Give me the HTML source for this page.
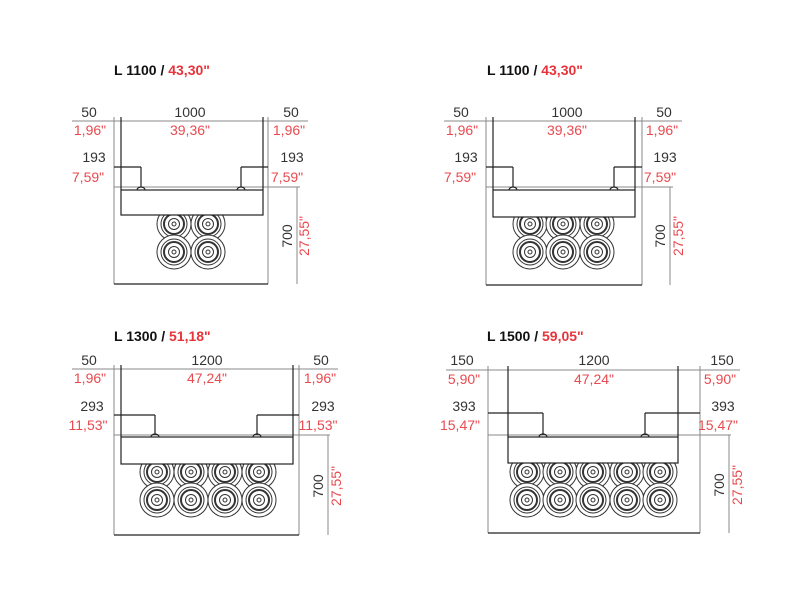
<!DOCTYPE html>
<html><head><meta charset="utf-8"><style>
html,body{margin:0;padding:0;background:#fff}
svg{display:block}
text{font-family:"Liberation Sans",sans-serif;font-size:14px;fill:#333}
.r{fill:#e84a4f}
.t{font-weight:bold;font-size:14px;fill:#111}
.t .r{fill:#e8333a}
.g{stroke:#888;stroke-width:1;fill:none}
.k{stroke:#222;stroke-width:1.2;fill:none}
</style></head><body>
<svg width="800" height="600" viewBox="0 0 800 600" xmlns="http://www.w3.org/2000/svg">
<defs>
<g id="c"><circle r="17" fill="#fff" stroke="#333" stroke-width="1"/><circle r="13" fill="none" stroke="#333" stroke-width="1"/><circle r="10" fill="none" stroke="#333" stroke-width="2"/><circle r="5.5" fill="none" stroke="#333" stroke-width="1"/><circle r="2" fill="none" stroke="#333" stroke-width="1"/></g>
</defs>

<!-- Panel 1 -->
<text x="114" y="75" class="t">L 1100 / <tspan class="r">43,30"</tspan></text>
<line x1="72" y1="121" x2="308" y2="121" class="g"/>
<line x1="114" y1="117" x2="114" y2="284" class="g"/>
<line x1="268" y1="117" x2="268" y2="284" class="g"/>
<line x1="114" y1="187" x2="300" y2="187" class="g"/>
<line x1="121" y1="117" x2="121" y2="190" class="k"/>
<line x1="263" y1="117" x2="263" y2="190" class="k"/>
<line x1="114" y1="167" x2="141" y2="167" class="k"/><line x1="141" y1="167" x2="141" y2="187" class="k"/>
<line x1="241" y1="167" x2="268" y2="167" class="k"/><line x1="241" y1="167" x2="241" y2="187" class="k"/>
<use href="#c" x="174" y="224"/><use href="#c" x="208" y="224"/><use href="#c" x="174" y="252"/><use href="#c" x="208" y="252"/>
<rect x="121" y="190" width="142" height="25" fill="#fff" stroke="#222" stroke-width="1.2"/>
<path d="M137 190 a4 3 0 0 1 8 0 M237 190 a4 3 0 0 1 8 0" class="k"/>
<line x1="114" y1="284" x2="268" y2="284" class="k"/>
<line x1="297" y1="187" x2="297" y2="284" class="g"/>
<text x="89" y="117" text-anchor="middle">50</text><text x="90" y="135" text-anchor="middle" class="r">1,96"</text>
<text x="190" y="117" text-anchor="middle">1000</text><text x="190" y="135" text-anchor="middle" class="r">39,36"</text>
<text x="291" y="117" text-anchor="middle">50</text><text x="289" y="135" text-anchor="middle" class="r">1,96"</text>
<text x="94" y="162" text-anchor="middle">193</text><text x="88" y="182" text-anchor="middle" class="r">7,59"</text>
<text x="292" y="162" text-anchor="middle">193</text><text x="287" y="182" text-anchor="middle" class="r">7,59"</text>
<text transform="translate(292,236) rotate(-90)" text-anchor="middle">700</text>
<text transform="translate(309,236) rotate(-90)" text-anchor="middle" class="r">27,55"</text>

<!-- Panel 2 -->
<text x="487" y="75" class="t">L 1100 / <tspan class="r">43,30"</tspan></text>
<line x1="444" y1="121" x2="682" y2="121" class="g"/>
<line x1="486" y1="117" x2="486" y2="285" class="g"/>
<line x1="642" y1="117" x2="642" y2="285" class="g"/>
<line x1="486" y1="187" x2="673" y2="187" class="g"/>
<line x1="493" y1="117" x2="493" y2="190" class="k"/>
<line x1="635" y1="117" x2="635" y2="190" class="k"/>
<line x1="486" y1="167" x2="513" y2="167" class="k"/><line x1="513" y1="167" x2="513" y2="187" class="k"/>
<line x1="614" y1="167" x2="642" y2="167" class="k"/><line x1="614" y1="167" x2="614" y2="187" class="k"/>
<use href="#c" x="530" y="224"/><use href="#c" x="563" y="224"/><use href="#c" x="597" y="224"/>
<use href="#c" x="530" y="252"/><use href="#c" x="563" y="252"/><use href="#c" x="597" y="252"/>
<rect x="493" y="190" width="142" height="27" fill="#fff" stroke="#222" stroke-width="1.2"/>
<path d="M509 190 a4 3 0 0 1 8 0 M610 190 a4 3 0 0 1 8 0" class="k"/>
<line x1="486" y1="285" x2="642" y2="285" class="k"/>
<line x1="670" y1="187" x2="670" y2="285" class="g"/>
<text x="461" y="117" text-anchor="middle">50</text><text x="462" y="135" text-anchor="middle" class="r">1,96"</text>
<text x="567" y="117" text-anchor="middle">1000</text><text x="567" y="135" text-anchor="middle" class="r">39,36"</text>
<text x="664" y="117" text-anchor="middle">50</text><text x="662" y="135" text-anchor="middle" class="r">1,96"</text>
<text x="466" y="162" text-anchor="middle">193</text><text x="460" y="182" text-anchor="middle" class="r">7,59"</text>
<text x="665" y="162" text-anchor="middle">193</text><text x="660" y="182" text-anchor="middle" class="r">7,59"</text>
<text transform="translate(665,236) rotate(-90)" text-anchor="middle">700</text>
<text transform="translate(683,236) rotate(-90)" text-anchor="middle" class="r">27,55"</text>

<!-- Panel 3 -->
<text x="114" y="341" class="t">L 1300 / <tspan class="r">51,18"</tspan></text>
<line x1="72" y1="369" x2="338" y2="369" class="g"/>
<line x1="114" y1="365" x2="114" y2="535" class="g"/>
<line x1="299" y1="365" x2="299" y2="535" class="g"/>
<line x1="114" y1="435" x2="330" y2="435" class="g"/>
<line x1="121" y1="365" x2="121" y2="437" class="k"/>
<line x1="293" y1="365" x2="293" y2="437" class="k"/>
<line x1="114" y1="415" x2="155" y2="415" class="k"/><line x1="155" y1="415" x2="155" y2="435" class="k"/>
<line x1="257" y1="415" x2="299" y2="415" class="k"/><line x1="257" y1="415" x2="257" y2="435" class="k"/>
<use href="#c" x="157" y="472"/><use href="#c" x="191" y="472"/><use href="#c" x="225" y="472"/><use href="#c" x="259" y="472"/>
<use href="#c" x="157" y="500"/><use href="#c" x="191" y="500"/><use href="#c" x="225" y="500"/><use href="#c" x="259" y="500"/>
<rect x="121" y="437" width="172" height="27" fill="#fff" stroke="#222" stroke-width="1.2"/>
<path d="M151 437 a4 3 0 0 1 8 0 M253 437 a4 3 0 0 1 8 0" class="k"/>
<line x1="114" y1="535" x2="299" y2="535" class="k"/>
<line x1="328" y1="435" x2="328" y2="535" class="g"/>
<text x="89" y="365" text-anchor="middle">50</text><text x="90" y="383" text-anchor="middle" class="r">1,96"</text>
<text x="207" y="365" text-anchor="middle">1200</text><text x="207" y="383" text-anchor="middle" class="r">47,24"</text>
<text x="321" y="365" text-anchor="middle">50</text><text x="320" y="383" text-anchor="middle" class="r">1,96"</text>
<text x="92" y="411" text-anchor="middle">293</text><text x="88" y="430" text-anchor="middle" class="r">11,53"</text>
<text x="323" y="411" text-anchor="middle">293</text><text x="318" y="430" text-anchor="middle" class="r">11,53"</text>
<text transform="translate(323,486) rotate(-90)" text-anchor="middle">700</text>
<text transform="translate(341,486) rotate(-90)" text-anchor="middle" class="r">27,55"</text>

<!-- Panel 4 -->
<text x="487" y="341" class="t">L 1500 / <tspan class="r">59,05"</tspan></text>
<line x1="446" y1="370" x2="740" y2="370" class="g"/>
<line x1="488" y1="366" x2="488" y2="533" class="g"/>
<line x1="700" y1="366" x2="700" y2="533" class="g"/>
<line x1="488" y1="435" x2="731" y2="435" class="g"/>
<line x1="508" y1="366" x2="508" y2="437" class="k"/>
<line x1="678" y1="366" x2="678" y2="437" class="k"/>
<line x1="488" y1="413" x2="543" y2="413" class="k"/><line x1="543" y1="413" x2="543" y2="435" class="k"/>
<line x1="645" y1="413" x2="700" y2="413" class="k"/><line x1="645" y1="413" x2="645" y2="435" class="k"/>
<use href="#c" x="527" y="472"/><use href="#c" x="560" y="472"/><use href="#c" x="593" y="472"/><use href="#c" x="627" y="472"/><use href="#c" x="660" y="472"/>
<use href="#c" x="527" y="500"/><use href="#c" x="560" y="500"/><use href="#c" x="593" y="500"/><use href="#c" x="627" y="500"/><use href="#c" x="660" y="500"/>
<rect x="508" y="437" width="170" height="26" fill="#fff" stroke="#222" stroke-width="1.2"/>
<path d="M539 437 a4 3 0 0 1 8 0 M641 437 a4 3 0 0 1 8 0" class="k"/>
<line x1="488" y1="533" x2="700" y2="533" class="k"/>
<line x1="729" y1="435" x2="729" y2="533" class="g"/>
<text x="462" y="365" text-anchor="middle">150</text><text x="464" y="384" text-anchor="middle" class="r">5,90"</text>
<text x="594" y="365" text-anchor="middle">1200</text><text x="594" y="384" text-anchor="middle" class="r">47,24"</text>
<text x="722" y="365" text-anchor="middle">150</text><text x="720" y="384" text-anchor="middle" class="r">5,90"</text>
<text x="464" y="411" text-anchor="middle">393</text><text x="460" y="430" text-anchor="middle" class="r">15,47"</text>
<text x="723" y="411" text-anchor="middle">393</text><text x="718" y="430" text-anchor="middle" class="r">15,47"</text>
<text transform="translate(724,485) rotate(-90)" text-anchor="middle">700</text>
<text transform="translate(742,485) rotate(-90)" text-anchor="middle" class="r">27,55"</text>
</svg>
</body></html>
